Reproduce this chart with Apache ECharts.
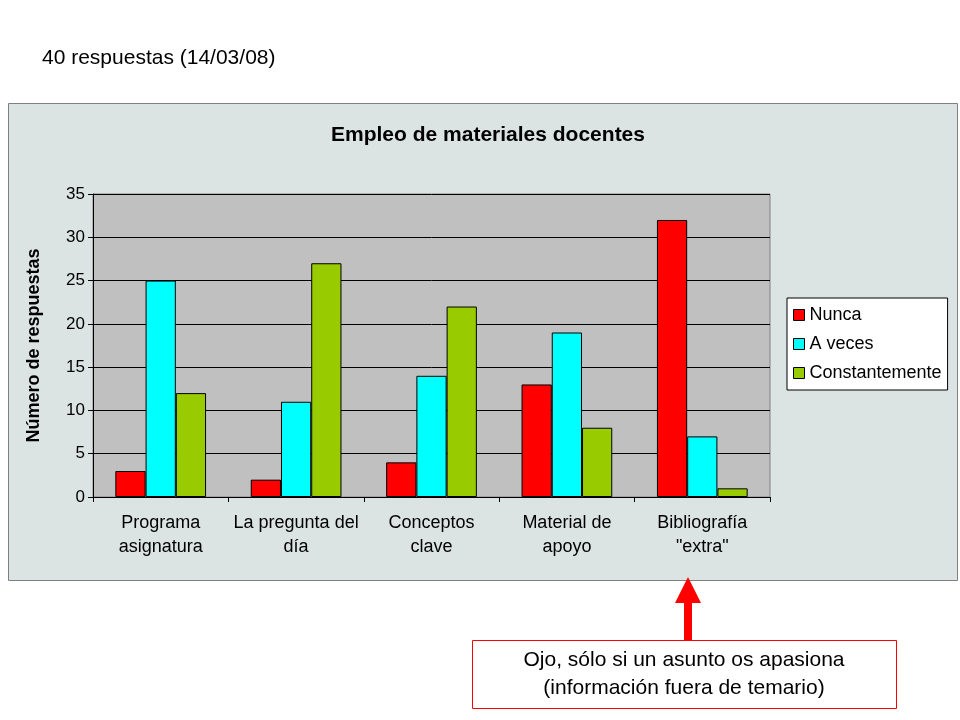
<!DOCTYPE html>
<html><head><meta charset="utf-8">
<script src="https://cdn.jsdelivr.net/npm/echarts@6/dist/echarts.min.js"></script>
<style>html,body{margin:0;padding:0;background:#fff}#c{width:960px;height:720px}</style>
</head><body><div id="c"></div>
<script>
const categories = ['Programa\nasignatura','La pregunta del\ndía','Conceptos\nclave','Material de\napoyo','Bibliografía\n"extra"'];
const nunca = [3,2,4,13,32];
const aVeces = [25,11,14,19,7];
const constantemente = [12,27,22,8,1];
const yTicks = {min:0,max:35,interval:5};

const chart = echarts.init(document.getElementById('c'));
const F = 'Liberation Sans, Arial, sans-serif';
const bar = (name, data, color) => ({name, type:'bar', data, barGap:'0%', barCategoryGap:'33%',
  itemStyle:{color, borderColor:'#000', borderWidth:1}});
chart.setOption({
  animation:false,
  textStyle:{fontFamily:F},
  graphic:[
    {type:'rect', shape:{x:8.5,y:103.5,width:949,height:477}, style:{fill:'#dce3e3',stroke:'#808080',lineWidth:1}, z:-10},
    {type:'text', left:42, top:48, style:{text:'40 respuestas (14/03/08)', font:'21px '+F, fill:'#000'}},
    {type:'rect', shape:{x:472.5,y:640.5,width:424,height:68}, style:{fill:'#fff',stroke:'#ff0000',lineWidth:1}},
    {type:'text', x:684, y:674, style:{text:'Ojo, sólo si un asunto os apasiona\n(información fuera de temario)', font:'21px '+F, fill:'#000', align:'center', verticalAlign:'middle', lineHeight:28}},
    {type:'polygon', shape:{points:[[688,577],[675,603],[701,603]]}, style:{fill:'#ff0000'}},
    {type:'rect', shape:{x:684,y:602,width:8,height:38}, style:{fill:'#ff0000'}}
  ],
  title:{text:'Empleo de materiales docentes', left:483, top:120, textAlign:'center',
    textStyle:{fontSize:21, fontWeight:'bold', color:'#000', fontFamily:F}},
  legend:{orient:'vertical', left:787, top:298, backgroundColor:'#fff', borderColor:'#000', borderWidth:1,
    padding:[8,6,8,6], itemGap:11, itemWidth:11, itemHeight:11, icon:'rect',
    textStyle:{fontSize:18, color:'#000', fontFamily:F},
    itemStyle:{borderColor:'#000',borderWidth:1},
    data:['Nunca','A veces','Constantemente']},
  grid:{left:93, top:194, width:677, height:303, backgroundColor:'#c0c0c0', show:true, borderColor:'#808080', borderWidth:1},
  xAxis:{type:'category', data:categories,
    axisLine:{lineStyle:{color:'#000'}}, axisTick:{show:true, alignWithLabel:false, length:5, lineStyle:{color:'#000'}},
    axisLabel:{fontSize:18, color:'#000', margin:14, lineHeight:24, interval:0, fontFamily:F}},
  yAxis:{type:'value', ...yTicks, name:'Número de respuestas', nameLocation:'middle', nameGap:50,
    nameTextStyle:{fontSize:18, fontWeight:'bold', color:'#000', fontFamily:F},
    axisLine:{show:true, lineStyle:{color:'#000'}}, axisTick:{show:true, length:5, lineStyle:{color:'#000'}},
    axisLabel:{fontSize:17, color:'#000', fontFamily:F},
    splitLine:{lineStyle:{color:'#000', width:1}}},
  series:[bar('Nunca',nunca,'#ff0000'), bar('A veces',aVeces,'#00ffff'), bar('Constantemente',constantemente,'#99cc00')]
});
</script></body></html>
